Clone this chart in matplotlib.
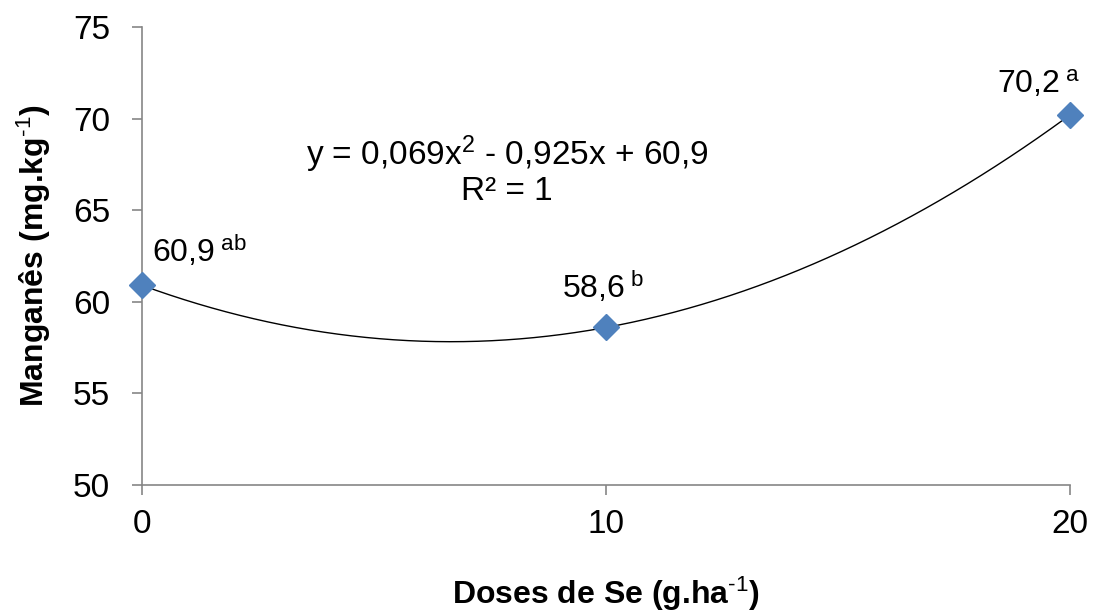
import matplotlib
matplotlib.use("Agg")
import matplotlib.pyplot as plt
import numpy as np

plt.rcParams["font.family"] = ["Liberation Sans", "DejaVu Sans"]
plt.rcParams["mathtext.fontset"] = "custom"
plt.rcParams["mathtext.rm"] = "Liberation Sans"
plt.rcParams["mathtext.bf"] = "Liberation Sans:bold"
plt.rcParams["mathtext.it"] = "Liberation Sans:italic"

doses = [0, 10, 20]
manganes = [60.9, 58.6, 70.2]
letters = ["ab", "b", "a"]
y_ticks = [50, 55, 60, 65, 70, 75]
x_ticks = [0, 10, 20]
equation = "y = 0,069x$^2$ - 0,925x + 60,9"
r2_text = "R² = 1"

# quadratic trend through the three means
coef = np.polyfit(doses, manganes, 2)
xs = np.linspace(0, 20, 200)
ys = np.polyval(coef, xs)

fig = plt.figure(figsize=(10.95, 6.12), dpi=100)
ax = fig.add_axes([0.1297, 0.2075, 0.8475, 0.7484])

ax.plot(xs, ys, color="black", lw=1.0, zorder=2)
ax.plot(doses, manganes, linestyle="none", marker="D", markersize=13,
        color="#4F81BD", markeredgecolor="#4F81BD", zorder=3, clip_on=False)

ax.set_xlim(0, 20)
ax.set_ylim(50, 75)
ax.set_xticks(x_ticks)
ax.set_yticks(y_ticks)
ax.tick_params(axis="both", labelsize=24, color="#868686", length=7,
               width=1.2, direction="out")
ax.tick_params(axis="x", pad=10)
ax.tick_params(axis="y", pad=16)
for side in ("top", "right"):
    ax.spines[side].set_visible(False)
for side in ("left", "bottom"):
    ax.spines[side].set_color("#868686")
    ax.spines[side].set_linewidth(1.2)

ax.set_ylabel(r"Manganês (mg.kg$^{\text{-1}}$)", fontsize=23,
              fontweight="bold", labelpad=14)
ax.set_xlabel(r"Doses de Se (g.ha$^{\text{-1}}$)", fontsize=23,
              fontweight="bold", labelpad=25)

# value labels with Tukey letters
offsets = [(7, 16.5), (-32, 21.5), (-52.5, 16)]
for x, y, lt, (dx, dy) in zip(doses, manganes, letters, offsets):
    ax.annotate(f"{y:.1f}".replace(".", ",") + r"$^{\mathrm{\ %s}}$" % lt,
                (x, y), xytext=(dx, dy), textcoords="offset points",
                fontsize=23, ha="left", va="baseline")

ax.text(0.393, 0.699, equation, transform=ax.transAxes, fontsize=24,
        ha="center", va="baseline")
ax.text(0.393, 0.622, r2_text, transform=ax.transAxes, fontsize=24,
        ha="center", va="baseline")

fig.savefig("out.png", dpi=100)
